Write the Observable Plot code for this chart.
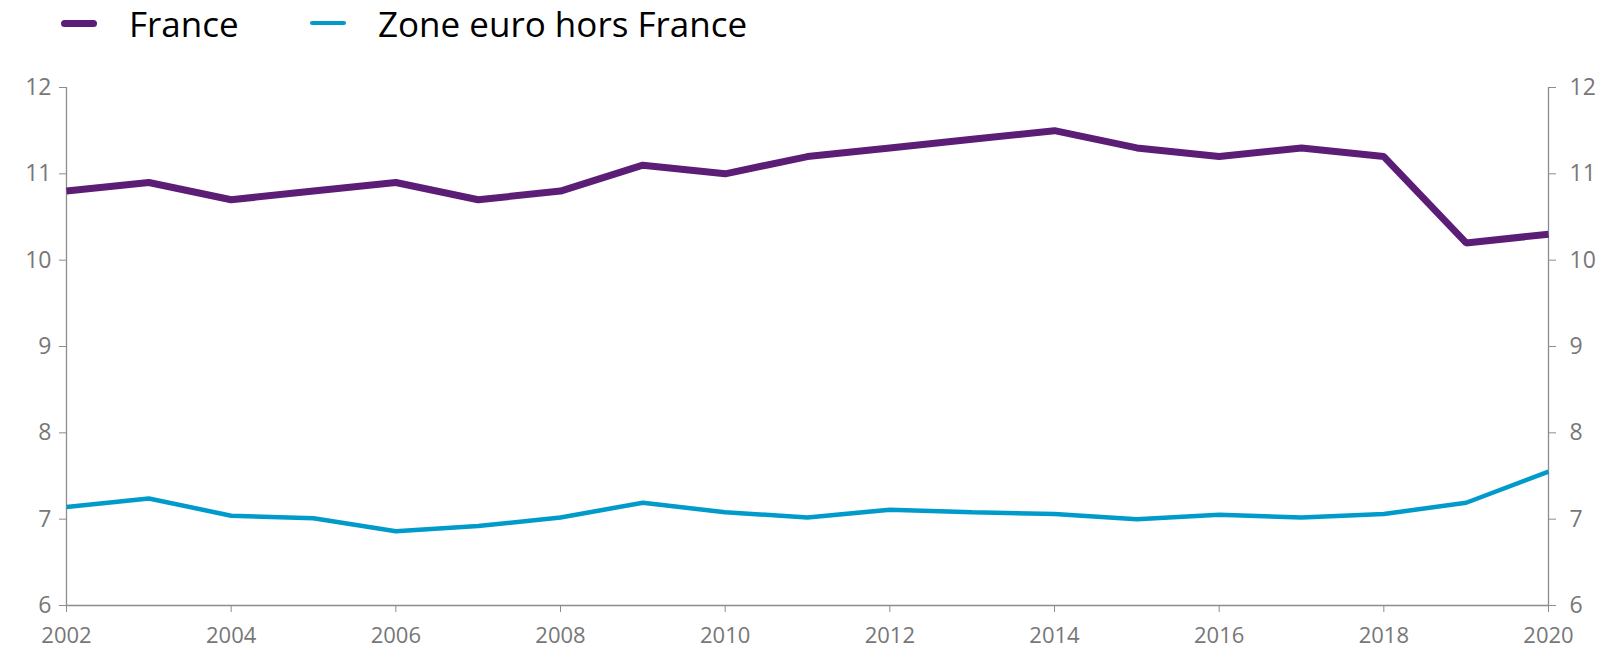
<!DOCTYPE html>
<html>
<head>
<meta charset="utf-8">
<script src="https://cdn.jsdelivr.net/npm/d3@7"></script>
<script src="https://cdn.jsdelivr.net/npm/@observablehq/plot@0.6"></script>
<style>
  body { margin: 0; background: #fff; font-family: "Open Sans", sans-serif; overflow: hidden; }
  #legend { position: relative; height: 48px; width: 1609px; }
  .item { position: absolute; top: 0; height: 46px; display: flex; align-items: center; font-size: 35px; color: #000; }
  .sw { display: inline-block; width: 36px; border-radius: 4px; margin-right: 32px; }
</style>
</head>
<body>
<div id="legend"></div>
<div id="chart"></div>
<script>
const years = [2002,2003,2004,2005,2006,2007,2008,2009,2010,2011,2012,2013,2014,2015,2016,2017,2018,2019,2020];
const france = [10.8,10.9,10.7,10.8,10.9,10.7,10.8,11.1,11.0,11.2,11.3,11.4,11.5,11.3,11.2,11.3,11.2,10.2,10.3];
const zoneEuro = [7.14,7.24,7.04,7.01,6.86,6.92,7.02,7.19,7.08,7.02,7.11,7.08,7.06,7.00,7.05,7.02,7.06,7.19,7.55];
const seriesNames = ["France", "Zone euro hors France"];
const seriesColors = ["#5b1d76", "#009bcb"];
const seriesWidths = [7, 4.5];
const yTicks = [6,7,8,9,10,11,12];
const xTicks = [2002,2004,2006,2008,2010,2012,2014,2016,2018,2020];

const data = [];
years.forEach((y, i) => {
  data.push({year: y, value: france[i], serie: seriesNames[0]});
  data.push({year: y, value: zoneEuro[i], serie: seriesNames[1]});
});

// Legend
const legend = document.getElementById("legend");
const legendX = [61, 310];
seriesNames.forEach((n, i) => {
  const d = document.createElement("div");
  d.className = "item";
  d.style.left = legendX[i] + "px";
  const sw = document.createElement("span");
  sw.className = "sw";
  sw.style.background = seriesColors[i];
  sw.style.height = (seriesWidths[i]) + "px";
  d.appendChild(sw);
  d.appendChild(document.createTextNode(n));
  legend.appendChild(d);
});

const axisColor = "#8c8c8c";
const chart = Plot.plot({
  width: 1609,
  height: 602,
  marginTop: 39,
  marginBottom: 45,
  marginLeft: 66,
  marginRight: 61,
  style: {fontFamily: "Open Sans, sans-serif", fontSize: "23px", color: "#777"},
  x: {domain: [2002, 2020]},
  y: {domain: [6, 12]},
  marks: [
    Plot.ruleX([2002, 2020], {stroke: axisColor, strokeWidth: 1.3}),
    Plot.ruleY([6], {stroke: axisColor, strokeWidth: 1.3}),
    Plot.axisY({anchor: "left", ticks: yTicks, tickFormat: d => String(d), tickSize: 7, tickPadding: 8, stroke: axisColor, fill: "#777", label: null}),
    Plot.axisY({anchor: "right", ticks: yTicks, tickFormat: d => String(d), tickSize: 7, tickPadding: 14, stroke: axisColor, fill: "#777", label: null}),
    Plot.axisX({ticks: xTicks, tickFormat: d => String(d), tickSize: 7, tickPadding: 15, fontSize: 22, stroke: axisColor, fill: "#777", label: null}),
    Plot.line(data, {x: "year", y: "value", z: "serie",
      stroke: d => seriesColors[seriesNames.indexOf(d.serie)],
      strokeWidth: d => seriesWidths[seriesNames.indexOf(d.serie)],
      strokeLinejoin: "miter", strokeLinecap: "butt"})
  ]
});
document.getElementById("chart").appendChild(chart);
</script>
</body>
</html>
